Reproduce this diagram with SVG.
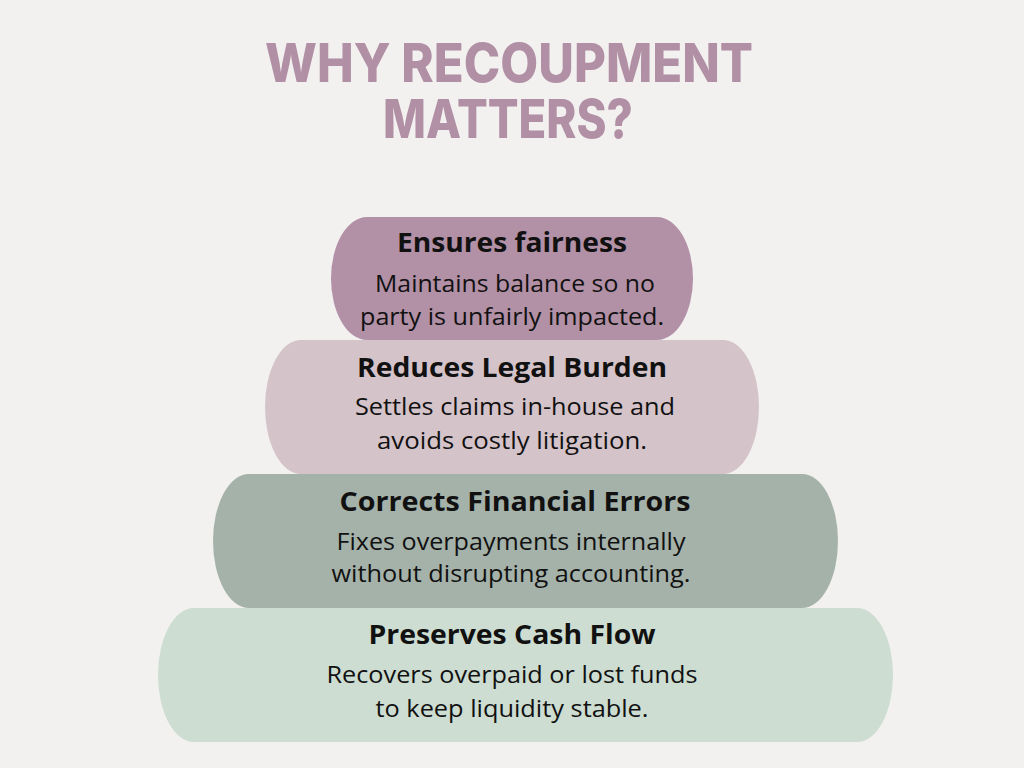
<svg xmlns="http://www.w3.org/2000/svg" width="1024" height="768" viewBox="0 0 1024 768">
<style>
.title{font-family:Inter,"Liberation Sans",Arial,sans-serif;font-weight:800;font-size:54px;fill:#B18FA5;text-anchor:middle}
.h{font-family:"Open Sans","Noto Sans",sans-serif;font-weight:700;font-size:26px;fill:#111;text-anchor:middle}
.b{font-family:"Open Sans","Noto Sans",sans-serif;font-weight:400;font-size:23px;fill:#111;text-anchor:middle}
</style>
<rect width="1024" height="768" fill="#F2F1EF"/>
<g id="title">
<text class="title"><tspan x="509" y="82" textLength="488" lengthAdjust="spacingAndGlyphs">WHY RECOUPMENT</tspan><tspan x="508" y="138" textLength="250" lengthAdjust="spacingAndGlyphs">MATTERS?</tspan></text>
</g>
<g id="connectors"></g>
<g id="node-cashflow">
<rect x="158" y="608" width="735" height="134" rx="36" ry="67" fill="#CDDDD2"/>
<text class="h" x="512" y="644" textLength="287" lengthAdjust="spacingAndGlyphs">Preserves Cash Flow</text>
<text class="b" x="512" y="683" textLength="371" lengthAdjust="spacingAndGlyphs">Recovers overpaid or lost funds</text>
<text class="b" x="512" y="717" textLength="273" lengthAdjust="spacingAndGlyphs">to keep liquidity stable.</text>
</g>
<g id="node-errors">
<rect x="213" y="474" width="625" height="134" rx="36" ry="67" fill="#A5B2AA"/>
<text class="h" x="515" y="511" textLength="351" lengthAdjust="spacingAndGlyphs">Corrects Financial Errors</text>
<text class="b" x="511" y="550" textLength="349" lengthAdjust="spacingAndGlyphs">Fixes overpayments internally</text>
<text class="b" x="511" y="582" textLength="359" lengthAdjust="spacingAndGlyphs">without disrupting accounting.</text>
</g>
<g id="node-legal">
<rect x="265" y="340" width="494" height="134" rx="36" ry="67" fill="#D5C3CA"/>
<text class="h" x="512" y="377" textLength="310" lengthAdjust="spacingAndGlyphs">Reduces Legal Burden</text>
<text class="b" x="515" y="415" textLength="320" lengthAdjust="spacingAndGlyphs">Settles claims in-house and</text>
<text class="b" x="512" y="449" textLength="270" lengthAdjust="spacingAndGlyphs">avoids costly litigation.</text>
</g>
<g id="node-fairness">
<rect x="331" y="217" width="362" height="123" rx="36" ry="61.5" fill="#B290A6"/>
<text class="h" x="512" y="252" textLength="230" lengthAdjust="spacingAndGlyphs">Ensures fairness</text>
<text class="b" x="515" y="292" textLength="280" lengthAdjust="spacingAndGlyphs">Maintains balance so no</text>
<text class="b" x="512" y="325" textLength="304" lengthAdjust="spacingAndGlyphs">party is unfairly impacted.</text>
</g>
</svg>
